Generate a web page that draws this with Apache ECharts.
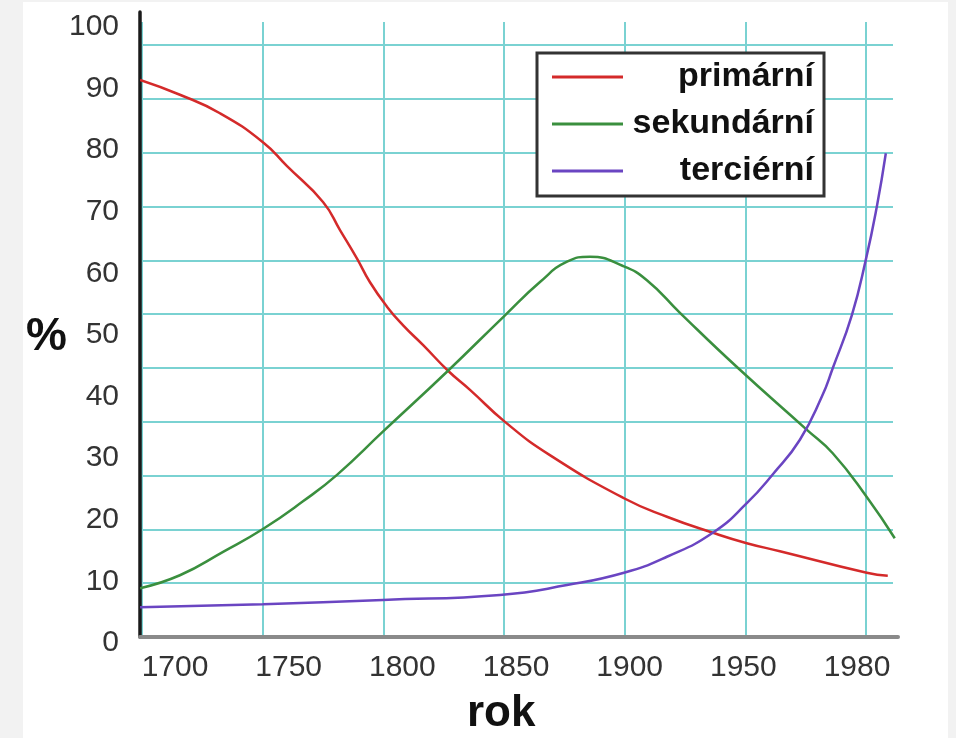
<!DOCTYPE html>
<html><head><meta charset="utf-8">
<script src="https://cdn.jsdelivr.net/npm/echarts@6/dist/echarts.min.js"></script>
<style>
html,body{margin:0;padding:0;background:#f2f2f2;}
#panel{position:absolute;left:23px;top:2px;width:925px;height:736px;background:#fff;}
#chart{position:absolute;left:0;top:0;width:956px;height:738px;}
</style></head><body>
<div id="panel"></div><div id="chart"></div>
<script>
const seriesNames = ['primární', 'sekundární', 'terciérní'];
const xTickLabels = ['1700', '1750', '1800', '1850', '1900', '1950', '1980'];
const yAxisTitle = '%';
const xAxisTitle = 'rok';

const primaryYears  = [1699.2, 1715.7, 1732.3, 1750.1, 1760.1, 1775.0, 1782.1, 1789.1, 1794.4, 1801.5, 1808.1, 1816.4, 1826.8, 1835.9, 1850.4, 1869.0, 1899.7, 1917.5, 1936.5, 1950.6, 1964.3, 2000.3, 2009.0];
const primaryValues = [91.4, 89.0, 86.0, 81.3, 77.4, 71.6, 67.0, 62.4, 58.6, 54.6, 51.6, 48.4, 44.2, 41.1, 35.9, 30.5, 23.5, 20.5, 17.9, 16.2, 14.9, 11.4, 10.9];

const secondaryYears  = [1699.2, 1715.7, 1733.6, 1750.1, 1766.7, 1780.8, 1799.8, 1826.8, 1850.4, 1864.9, 1876.1, 1885.6, 1899.3, 1909.2, 1922.9, 1946.5, 1975.5, 1986.2, 2000.3, 2011.9];
const secondaryValues = [8.9, 11.0, 14.8, 18.5, 23.0, 27.3, 34.3, 44.2, 53.2, 58.6, 61.9, 62.7, 61.2, 58.9, 53.6, 44.8, 34.6, 30.8, 23.7, 17.0];

const tertiaryYears  = [1699.2, 1750.1, 1799.8, 1848.3, 1876.1, 1899.7, 1917.5, 1936.5, 1950.6, 1961.4, 1972.6, 1981.7, 1986.2, 1994.1, 1999.9, 2004.5, 2008.2];
const tertiaryValues = [5.8, 6.3, 7.0, 7.8, 9.4, 11.4, 14.0, 17.9, 22.7, 27.4, 33.0, 40.0, 44.6, 53.2, 62.2, 70.9, 79.5];

const seriesColors = ['#d42a2a', '#3a8f3e', '#6a45c2'];
const FONT = "'Liberation Sans', Arial, sans-serif";
const GRID_C = '#7ad2d2';

function pairs(xs, ys) { return xs.map((x, i) => [x, ys[i]]); }
const seriesData = [
  pairs(primaryYears, primaryValues),
  pairs(secondaryYears, secondaryValues),
  pairs(tertiaryYears, tertiaryValues)
];

const hidden = { show: false };
const chart = echarts.init(document.getElementById('chart'), null, { renderer: 'canvas' });
chart.setOption({
  animation: false,
  backgroundColor: 'transparent',
  title: [
    { text: yAxisTitle, left: 26, top: 314, padding: 0,
      textStyle: { fontSize: 46, fontWeight: 'bold', fontFamily: FONT, color: '#111' } },
    { text: xAxisTitle, left: 467, top: 692, padding: 0,
      textStyle: { fontSize: 44, fontWeight: 'bold', fontFamily: FONT, color: '#111' } }
  ],
  grid: [
    { left: 142, top: 22, width: 724, height: 615 },
    { left: 142, top: 45, width: 751, height: 592 },
    { left: 142, top: 27, width: 753, height: 616 },
    { left: 140, top: 12, width: 758, height: 625 },
    { left: 175, top: 22, width: 682, height: 615 }
  ],
  xAxis: [
    { gridIndex: 0, type: 'value', min: 1700, max: 2000, interval: 50,
      axisLine: hidden, axisTick: hidden, axisLabel: hidden,
      splitLine: { show: true, lineStyle: { color: GRID_C, width: 2 } } },
    { gridIndex: 1, type: 'value', min: 0, max: 1, show: false },
    { gridIndex: 2, type: 'value', min: 1700, max: 2012, show: false },
    { gridIndex: 3, type: 'value', min: 0, max: 1,
      axisLine: { show: true, lineStyle: { color: '#8a8a8a', width: 4 } },
      axisTick: hidden, axisLabel: hidden, splitLine: hidden },
    { gridIndex: 4, type: 'category', data: xTickLabels, boundaryGap: false,
      axisLine: hidden, axisTick: hidden, splitLine: hidden,
      axisLabel: { interval: 0, margin: 16, fontSize: 30, fontFamily: FONT, color: '#333' } }
  ],
  yAxis: [
    { gridIndex: 0, type: 'value', min: 0, max: 1, show: false },
    { gridIndex: 1, type: 'value', min: 0, max: 110, interval: 10,
      axisLine: hidden, axisTick: hidden, axisLabel: hidden,
      splitLine: { show: true, lineStyle: { color: GRID_C, width: 2 } } },
    { gridIndex: 2, type: 'value', min: 0, max: 100, interval: 10,
      axisLine: hidden, axisTick: hidden, splitLine: hidden,
      axisLabel: { margin: 23, fontSize: 30, fontFamily: FONT, color: '#333' } },
    { gridIndex: 3, type: 'value', min: 0, max: 1,
      axisLine: { show: true, lineStyle: { color: '#1a1a1a', width: 3.5 } },
      axisTick: hidden, axisLabel: hidden, splitLine: hidden },
    { gridIndex: 4, type: 'value', min: 0, max: 1, show: false }
  ],
  legend: {
    orient: 'vertical', left: 537, top: 53,
    data: seriesNames,
    icon: 'rect', itemWidth: 71, itemHeight: 3, itemGap: 13,
    padding: [7, 10, 8, 15],
    backgroundColor: '#fff', borderColor: '#333', borderWidth: 3,
    selectedMode: false,
    formatter: function (n) { return '{t|' + n + '}'; },
    textStyle: { rich: { t: { width: 186, align: 'right', fontSize: 34, fontWeight: 'bold',
      fontFamily: FONT, color: '#111', lineHeight: 34 } } }
  },
  series: seriesNames.map((name, i) => ({
    name: name, type: 'line', xAxisIndex: 2, yAxisIndex: 2,
    data: seriesData[i], showSymbol: false, smooth: 0.5, clip: false,
    color: seriesColors[i],
    lineStyle: { width: 2.5, color: seriesColors[i] },
    z: 3
  }))
});
</script>
</body></html>
